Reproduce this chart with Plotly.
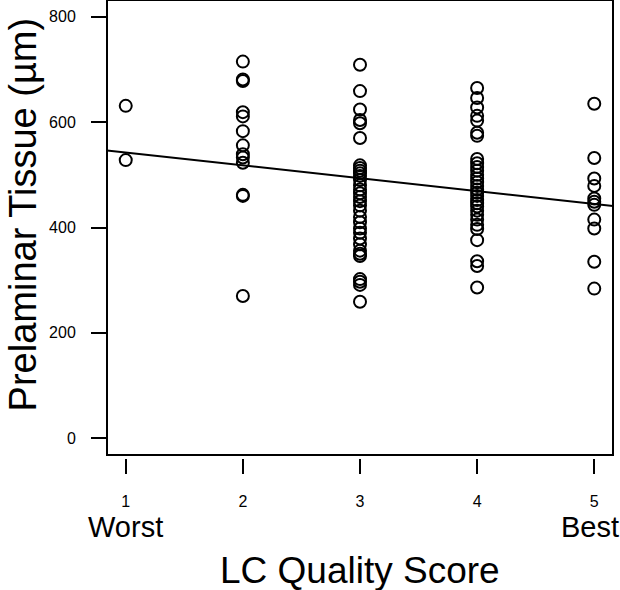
import plotly.graph_objects as go

# LC quality score groups and preliminar tissue values (µm)
score1 = [631, 528]
score2 = [715, 681, 678, 619, 611, 583, 556, 539, 533, 523, 462, 460, 270]
score3 = [709, 659, 624, 604, 598, 570, 518, 513, 508, 503, 498, 490, 480, 472,
          465, 458, 450, 442, 432, 420, 410, 398, 390, 379, 368, 356, 350, 346,
          302, 297, 291, 259]
score4 = [665, 646, 628, 612, 603, 580, 574, 530, 522, 515, 508, 500, 493, 486,
          479, 472, 466, 460, 452, 446, 440, 432, 424, 415, 405, 397, 376, 336,
          327, 286]
score5 = [635, 532, 493, 479, 455, 449, 443, 415, 398, 335, 284]

groups = {1: score1, 2: score2, 3: score3, 4: score4, 5: score5}

# fitted regression line
fit_intercept = 567.0
fit_slope = -24.5
x_range = [0.84, 5.16]
y_range = [-32, 832]

x_ticks = [1, 2, 3, 4, 5]
y_ticks = [0, 200, 400, 600, 800]

xs, ys = [], []
for k, vals in groups.items():
    xs += [k] * len(vals)
    ys += vals

fig = go.Figure()
fig.add_trace(go.Scatter(
    x=xs, y=ys, mode="markers",
    marker=dict(symbol="circle-open", size=12, color="black",
                line=dict(width=2, color="black")),
    showlegend=False, hoverinfo="skip"))
fig.add_trace(go.Scatter(
    x=x_range, y=[fit_intercept + fit_slope * v for v in x_range],
    mode="lines", line=dict(color="black", width=2),
    showlegend=False, hoverinfo="skip"))

font = "Liberation Sans, Arial, Helvetica, sans-serif"

fig.update_layout(
    width=620, height=590,
    margin=dict(l=107, r=7, t=0, b=132),
    plot_bgcolor="white", paper_bgcolor="white",
    font=dict(family=font, color="black"),
    xaxis=dict(range=x_range, tickvals=x_ticks, ticks="outside", ticklen=15,
               tickwidth=2, tickcolor="black", showgrid=False, zeroline=False,
               showline=False, anchor="free", position=0,
               tickfont=dict(size=16), ticklabelstandoff=14),
    yaxis=dict(range=y_range, tickvals=y_ticks, ticks="outside", ticklen=15,
               tickwidth=2, tickcolor="black", showgrid=False, zeroline=False,
               showline=False, domain=[3 / 458, 1],
               tickfont=dict(size=16), ticklabelstandoff=12),
    shapes=[dict(type="rect", xref="x domain", yref="y domain",
                 x0=0, x1=1, y0=0, y1=1, line=dict(color="black", width=2))],
    annotations=[
        dict(text="Worst", x=1, xref="x", y=-0.151, yref="paper",
             showarrow=False, font=dict(size=29), xanchor="center", yanchor="middle"),
        dict(text="Best", x=5, xref="x", xshift=-4, y=-0.151, yref="paper",
             showarrow=False, font=dict(size=29), xanchor="center", yanchor="middle"),
        dict(text="LC Quality Score", x=0.5, xref="paper", y=-0.245, yref="paper",
             showarrow=False, font=dict(size=37), xanchor="center", yanchor="middle"),
        dict(text="Prelaminar Tissue (µm)", x=-0.167, xref="paper", y=0.533,
             yref="paper", showarrow=False, font=dict(size=38), textangle=-90,
             xanchor="center", yanchor="middle"),
    ],
)

fig.write_html("out.html", config={"displayModeBar": False},
               post_script="document.body.style.margin='0';")
